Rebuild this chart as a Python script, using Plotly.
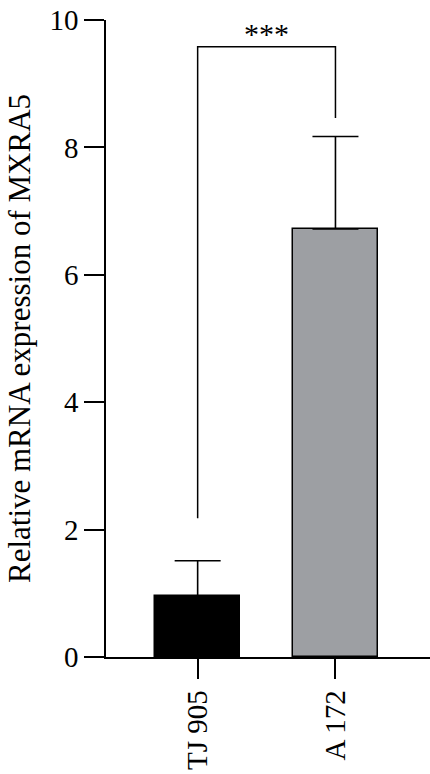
import plotly.graph_objects as go

categories = ["TJ 905", "A 172"]
means = [0.95, 6.72]
sd_upper = [0.56, 1.45]
bar_colors = ["#000000", "#9d9fa3"]
y_ticks = [0, 2, 4, 6, 8, 10]
sig_label = "***"
bracket_left_bottom = 2.18
bracket_top = 9.58
bracket_right_bottom = 8.46

font_family = "Liberation Serif, Times New Roman, serif"

fig = go.Figure()
fig.add_trace(go.Bar(
    x=[0, 1], y=means,
    width=0.617,
    marker=dict(color=bar_colors, line=dict(color="#000000", width=1.5)),
    error_y=dict(type="data", array=sd_upper, arrayminus=[0, 0], symmetric=False,
                 color="#000000", thickness=1.6, width=23),
    showlegend=False,
))

fig.add_shape(type="path",
              path=f"M 0 {bracket_left_bottom} L 0 {bracket_top} L 1 {bracket_top} L 1 {bracket_right_bottom}",
              xref="x", yref="y", line=dict(color="#000000", width=1.5))
fig.add_annotation(x=0.5, y=bracket_top, text=sig_label, showarrow=False,
                   xref="x", yref="y", yanchor="bottom", yshift=-5,
                   font=dict(family=font_family, size=30, color="#000000"))

fig.update_layout(
    width=430, height=774,
    margin=dict(l=106, r=0, t=20, b=117, autoexpand=False),
    plot_bgcolor="white", paper_bgcolor="white",
    font=dict(family=font_family, size=29, color="#000000"),
    bargap=0,
)
fig.update_xaxes(
    range=[-0.665, 1.686], automargin=False,
    tickvals=[0, 1], ticktext=categories, tickangle=-90,
    showline=True, linecolor="#000000", linewidth=1.5,
    ticks="outside", ticklen=20, tickwidth=1.5, tickcolor="#000000",
    showgrid=False, zeroline=False,
    tickfont=dict(size=29, family=font_family),
)
fig.update_yaxes(
    range=[0, 10], automargin=False,
    tickvals=y_ticks,
    showline=True, linecolor="#000000", linewidth=1.5,
    ticks="outside", ticklen=20, tickwidth=1.5, tickcolor="#000000",
    showgrid=False, zeroline=False,
    tickfont=dict(size=29, family=font_family),
    title=dict(text="Relative mRNA expression of MXRA5", standoff=10,
               font=dict(size=31, family=font_family)),
)

fig.write_html("out.html", config={"displayModeBar": False},
               post_script="document.body.style.margin='0';document.body.style.padding='0';")
